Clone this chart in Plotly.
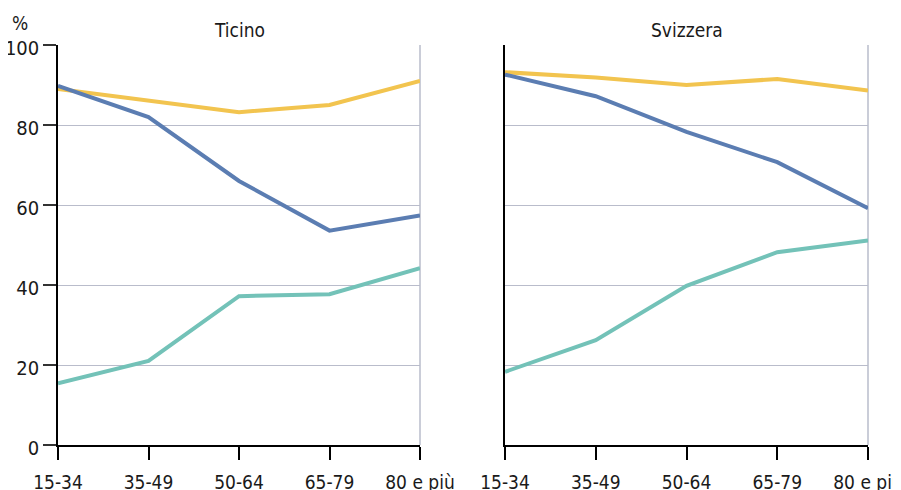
import plotly.graph_objects as go

categories = ["15-34", "35-49", "50-64", "65-79", "80 e più"]
tick_values_y = [0, 20, 40, 60, 80, 100]

ticino_yellow = [89, 86, 83.2, 85, 91]
ticino_blue = [89.8, 82, 66, 53.6, 57.4]
ticino_teal = [15.4, 21, 37.2, 37.7, 44.2]

svizzera_yellow = [93.2, 91.9, 90, 91.5, 88.6]
svizzera_blue = [92.6, 87.2, 78.3, 70.7, 59.2]
svizzera_teal = [18.3, 26.2, 39.8, 48.2, 51.1]

panel_titles = ["Ticino", "Svizzera"]

YELLOW = "#F2C44F"
BLUE = "#5B7DB2"
TEAL = "#73C2B8"
GRID = "#B9BCCB"
FONT = "DejaVu Sans Condensed, Liberation Sans Narrow, sans-serif"

W, H = 901, 490
OFF = 8  # page body margin


def px(x):
    return (x - OFF) / W


def py(y):
    return 1 - (y - OFF) / H


fig = go.Figure()

panels = [
    (ticino_yellow, ticino_blue, ticino_teal, "x", "y"),
    (svizzera_yellow, svizzera_blue, svizzera_teal, "x2", "y2"),
]
for yel, blu, tea, xa, ya in panels:
    for vals, col in [(yel, YELLOW), (tea, TEAL), (blu, BLUE)]:
        fig.add_trace(go.Scatter(x=categories, y=vals, mode="lines",
                                 line=dict(color=col, width=4),
                                 xaxis=xa, yaxis=ya, showlegend=False,
                                 hoverinfo="skip"))

ydom = [py(445), py(45)]
xdom1 = [px(58), px(420)]
xdom2 = [px(505), px(868)]

xaxis_common = dict(type="category", range=[0, 4], showgrid=False,
                    showline=True, linecolor="black", linewidth=1.5,
                    ticks="outside", ticklen=13, tickcolor="black", tickwidth=1.5,
                    ticklabelstandoff=6,
                    tickfont=dict(family=FONT, size=19, color="#1a1a1a"),
                    zeroline=False, fixedrange=True, automargin=False)
yaxis_common = dict(range=[0, 100], tickvals=tick_values_y, showgrid=True,
                    gridcolor=GRID, gridwidth=1, zeroline=False,
                    showline=True, linecolor="black", linewidth=1.5,
                    fixedrange=True, automargin=False)

fig.update_layout(
    width=W, height=H,
    margin=dict(l=0, r=0, t=0, b=0),
    plot_bgcolor="white", paper_bgcolor="white",
    xaxis=dict(domain=xdom1, anchor="y", **xaxis_common),
    xaxis2=dict(domain=xdom2, anchor="y2", **xaxis_common),
    yaxis=dict(domain=ydom, anchor="x", ticks="outside", ticklen=13,
               tickcolor="#333", tickwidth=1.5, ticklabelshift=3,
               tickfont=dict(family=FONT, size=20, color="#1a1a1a"),
               **yaxis_common),
    yaxis2=dict(domain=ydom, anchor="x2", showticklabels=False, ticks="",
                **yaxis_common),
)

# right borders of panels
for xref, yref in [("x domain", "y domain"), ("x2 domain", "y2 domain")]:
    fig.add_shape(type="line", xref=xref, yref=yref, x0=1, x1=1, y0=0, y1=1,
                  line=dict(color=GRID, width=1.5), layer="below")

for title, xd in zip(panel_titles, [xdom1, xdom2]):
    fig.add_annotation(text=title, xref="paper", yref="paper",
                       x=(xd[0] + xd[1]) / 2, y=py(30), showarrow=False,
                       xanchor="center", yanchor="middle",
                       font=dict(family=FONT, size=19, color="#1a1a1a"))

fig.add_annotation(text="%", xref="paper", yref="paper", x=px(20), y=py(23),
                   showarrow=False, xanchor="center", yanchor="middle",
                   font=dict(family=FONT, size=19, color="#1a1a1a"))

fig.write_html("out.html")
